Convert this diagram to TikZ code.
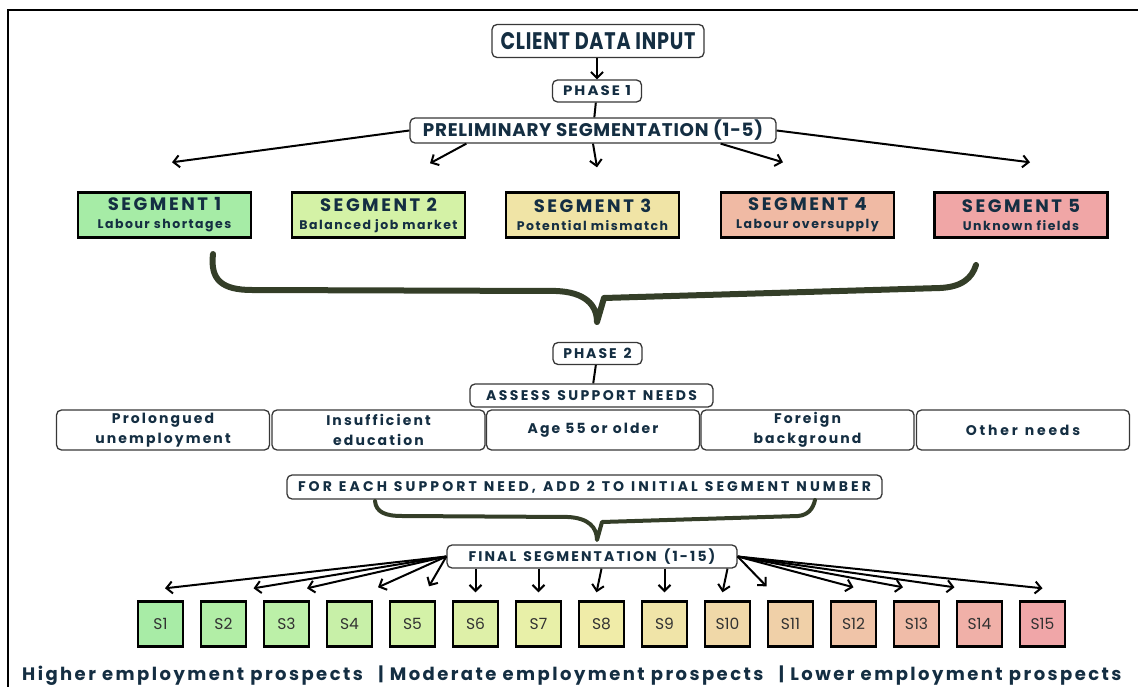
\documentclass[tikz,border=0pt]{standalone}
\usepackage{fontspec}
\setmainfont{Poppins}[LetterSpace=12]
\newfontfamily\condfont{Poppins}[LetterSpace=4]
\newfontfamily\plainfont{Poppins}[LetterSpace=0]
\usetikzlibrary{arrows.meta,calc}

\definecolor{ink}{RGB}{20,46,66}
\definecolor{bracecol}{RGB}{52,62,40}
\definecolor{edgecol}{RGB}{55,55,55}
\definecolor{sgray}{RGB}{50,50,50}
\definecolor{seg1}{RGB}{166,236,166}
\definecolor{seg2}{RGB}{212,242,166}
\definecolor{seg3}{RGB}{240,228,166}
\definecolor{seg4}{RGB}{240,186,164}
\definecolor{seg5}{RGB}{240,166,166}
\definecolor{f1}{RGB}{168,236,166}
\definecolor{f2}{RGB}{178,238,166}
\definecolor{f3}{RGB}{188,240,168}
\definecolor{f4}{RGB}{200,240,168}
\definecolor{f5}{RGB}{212,242,168}
\definecolor{f6}{RGB}{222,240,168}
\definecolor{f7}{RGB}{232,240,168}
\definecolor{f8}{RGB}{240,236,168}
\definecolor{f9}{RGB}{240,228,168}
\definecolor{f10}{RGB}{240,216,168}
\definecolor{f11}{RGB}{240,208,168}
\definecolor{f12}{RGB}{240,196,168}
\definecolor{f13}{RGB}{240,188,168}
\definecolor{f14}{RGB}{240,176,168}
\definecolor{f15}{RGB}{240,166,168}

\newcommand{\spaced}[1]{\addfontfeatures{LetterSpace=#1}}
\newcommand{\widewords}{\spaceskip=7pt\relax}

\tikzset{
  pill/.style={draw=edgecol, line width=1.3pt, rounded corners=5pt, fill=white,
    text=ink, inner sep=0pt, align=center},
  capspill/.style={pill, font=\bfseries\fontsize{14}{14}\selectfont\widewords},
  segbox/.style={draw=black, line width=2.4pt, minimum width=173pt, minimum height=45pt,
    inner sep=0pt, text=ink, align=center, font=\bfseries\fontsize{18}{19}\selectfont\spaced{14}},
  needbox/.style={pill, minimum width=213pt, minimum height=40pt,
    font=\bfseries\fontsize{14}{20}\selectfont\spaced{15}},
  sbox/.style={draw=black, line width=2.4pt, minimum width=45pt, minimum height=45pt,
    inner sep=0pt, text=sgray, font=\plainfont\fontsize{15.5}{15.5}\selectfont},
  link/.style={draw=black, line width=2pt},
  arr/.style={link, -{Straight Barb[length=6pt,width=12pt]}},
  bracepath/.style={draw=bracecol, line cap=round, line join=round},
}

\begin{document}
\begin{tikzpicture}[x=1pt,y=-1pt]
\useasboundingbox (0,0) rectangle (1138,687);

% outer frame
\draw[line width=2.5pt] (8,687) -- (8,10) -- (1138,10);

% phase 1
\node[pill, minimum width=212pt, minimum height=33pt] (client) at (598,41)
  {\condfont\bfseries\resizebox{195pt}{17pt}{CLIENT DATA INPUT}};
\node[pill, minimum width=89pt, minimum height=22pt] (ph1) at (597,91)
  {\condfont\bfseries\resizebox{68pt}{10pt}{\spaced{14}PHASE 1}};
\node[pill, minimum width=366pt, minimum height=25pt] (pre) at (593,130.5)
  {\condfont\bfseries\resizebox{340pt}{!}{PRELIMINARY SEGMENTATION (1-5)}};

\draw[arr] (client.south -| ph1) -- (ph1.north);
\draw[link] (ph1) -- (pre);

% preliminary segments
\node[segbox, fill=seg1] (seg1) at (164.5,215) {SEGMENT 1\\[-1pt]{\fontsize{12.5}{14}\selectfont\spaced{12} Labour shortages}};
\node[segbox, fill=seg2] (seg2) at (378.5,215) {SEGMENT 2\\[-1pt]{\fontsize{12.5}{14}\selectfont\spaced{12} Balanced job market}};
\node[segbox, fill=seg3] (seg3) at (592.5,215) {SEGMENT 3\\[-1pt]{\fontsize{12.5}{14}\selectfont\spaced{12} Potential mismatch}};
\node[segbox, fill=seg4] (seg4) at (807.5,215) {SEGMENT 4\\[-1pt]{\fontsize{12.5}{14}\selectfont\spaced{12} Labour oversupply}};
\node[segbox, fill=seg5] (seg5) at (1021,215) {SEGMENT 5\\[-1pt]{\fontsize{12.5}{14}\selectfont\spaced{12} Unknown fields}};

\draw[arr] (pre.west) -- ($(seg1.north)+(7.5,-29)$);
\draw[arr] ($(pre.south west)+(57,0)$) -- ($(seg2.north)+(51.5,-28)$);
\draw[arr] (pre.south) -- ($(seg3.north)+(4.5,-24)$);
\draw[arr] ($(pre.south east)+(-56,0)$) -- ($(seg4.north)+(-24.5,-29)$);
\draw[arr] (pre.east) -- ($(seg5.north)+(9,-29)$);

% first brace
\draw[bracepath, line width=6pt] (213,254)
  .. controls (210,280) and (222,290) .. (252,290)
  -- (556,291) .. controls (585,292) and (597,305) .. (597,322)
  -- (604,298) -- (940,288)
  .. controls (962,287) and (972,278) .. (976,265);

% phase 2
\node[capspill, minimum width=89pt, minimum height=22pt] (ph2) at (597.5,353.5)
  {\spaced{14}PHASE 2};
\node[capspill, minimum width=243pt, minimum height=23pt] (assess) at (591.5,395.5)
  {\spaced{17}ASSESS SUPPORT NEEDS};
\draw[link] (ph2) -- (assess);

\node[needbox] (n1) at (163,430) {Prolongued\\unemployment};
\node[needbox] (n2) at (378.5,430) {Insufficient\\education};
\node[needbox] (n3) at (593,430) {Age 55 or older};
\node[needbox] (n4) at (807.5,430) {Foreign\\background};
\node[needbox] (n5) at (1023,430) {\spaced{20}\widewords Other needs};

\node[capspill, minimum width=595pt, minimum height=24pt] (each) at (584.5,487)
  {\spaced{22}FOR EACH SUPPORT NEED, ADD 2 TO INITIAL SEGMENT NUMBER};
\draw[link] ($(n3.south)+(4,0)$) -- ($(n3.south)+(4,0)$ |- each.north);

% second brace
\draw[bracepath, line width=4pt] (375,501)
  .. controls (376,512) and (385,516) .. (402,516)
  -- (568,517) .. controls (588,518) and (597,527) .. (597,540)
  -- (602,522) -- (798,516)
  .. controls (808,515) and (813,509) .. (815,500);

\node[capspill, minimum width=290pt, minimum height=23pt] (final) at (592,556.5)
  {\spaced{15}FINAL SEGMENTATION (1-15)};

% final segments
\foreach \i in {1,...,15} {
  \node[sbox, fill=f\i] (s\i) at ({160.5+63*(\i-1)},624) {S\i};
}

\draw[arr] (final.west) -- ($(s1.north)+(4.5,-12)$);
\draw[arr] (final.west) -- ($(s2.north)+(30,-12)$);
\draw[arr] (final.west) -- ($(s3.north)+(20.5,-12)$);
\draw[arr] (final.west) -- ($(s4.north)+(28.5,-13)$);
\draw[arr] (final.west) -- ($(s5.north)+(16.5,-14)$);
\draw[arr] (final.south -| s6.north) -- ($(s6.north)+(0,-8)$);
\draw[arr] (final.south -| s7.north) -- ($(s7.north)+(0,-8)$);
\draw[arr] (final.south -| s8.north) -- ($(s8.north)+(-5,-8)$);
\draw[arr] (final.south -| s9.north) -- ($(s9.north)+(0,-8)$);
\draw[arr] (final.south -| s10.north) -- ($(s10.north)+(-5,-8)$);
\draw[arr] (final.east) -- ($(s11.north)+(-24,-14)$);
\draw[arr] (final.east) -- ($(s12.north)+(0,-13)$);
\draw[arr] (final.east) -- ($(s13.north)+(-13.5,-13)$);
\draw[arr] (final.east) -- ($(s14.north)+(-25,-13)$);
\draw[arr] (final.east) -- ($(s15.north)+(0,-12)$);

% prospects legend
\node[text=ink, anchor=base west, inner sep=0pt,
  font=\bfseries\fontsize{18}{18}\selectfont\spaced{13.5}] (legend) at (22,680)
  {Higher employment prospects~~\,|~Moderate employment prospects~~\,|~Lower employment prospects};
\end{tikzpicture}
\end{document}
